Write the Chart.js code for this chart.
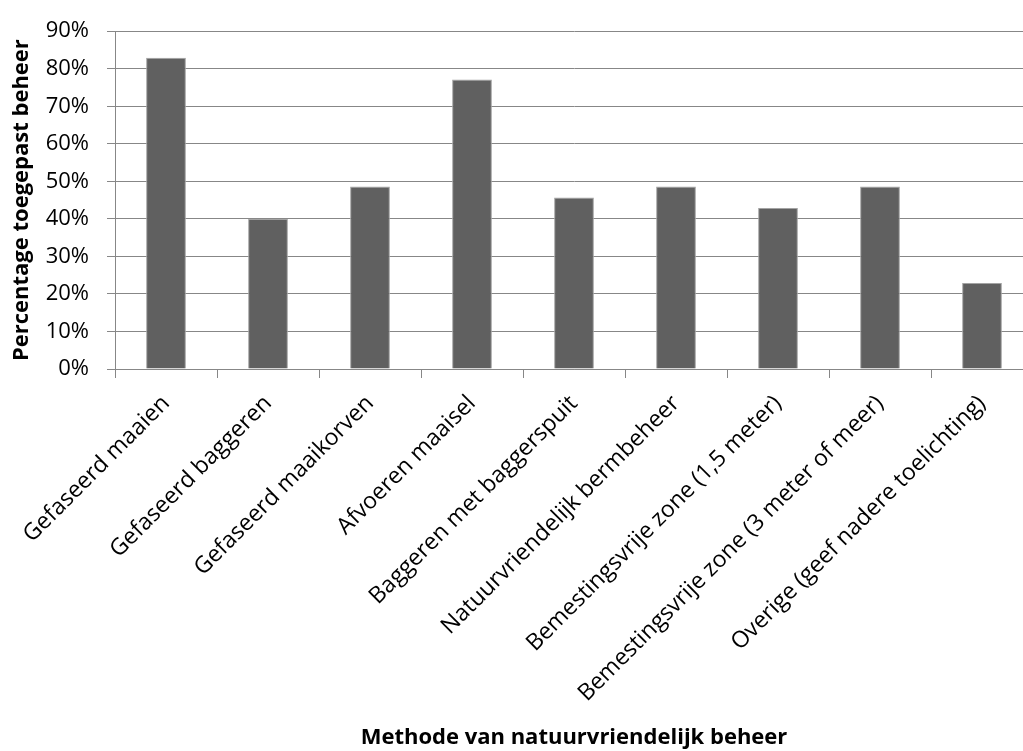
<!DOCTYPE html>
<html>
<head>
<meta charset="utf-8">
<script src="https://cdn.jsdelivr.net/npm/chart.js@4.4.1/dist/chart.umd.min.js"></script>
<style>
  html, body { margin: 0; padding: 0; background: #fff; overflow: hidden; }
  #wrap { width: 1034px; height: 751px; }
</style>
</head>
<body>
<div id="wrap"><canvas id="chart" width="1034" height="751"></canvas></div>
<script>
// Data
const categories = [
  'Gefaseerd maaien',
  'Gefaseerd baggeren',
  'Gefaseerd maaikorven',
  'Afvoeren maaisel',
  'Baggeren met baggerspuit',
  'Natuurvriendelijk bermbeheer',
  'Bemestingsvrije zone (1,5 meter)',
  'Bemestingsvrije zone (3 meter of meer)',
  'Overige (geef nadere toelichting)',
];
const percentages = [82.9, 40.0, 48.6, 77.1, 45.7, 48.6, 42.9, 48.6, 22.9];
const yTicks = [0, 10, 20, 30, 40, 50, 60, 70, 80, 90];

const AXIS_GREY = '#878787';
const FONT = "'Open Sans', sans-serif";

const ctx = document.getElementById('chart').getContext('2d');
new Chart(ctx, {
  type: 'bar',
  data: {
    labels: categories,
    datasets: [{
      data: percentages,
      backgroundColor: '#606060',
      borderColor: '#a3a3a3',
      borderWidth: 1,
      categoryPercentage: 1,
      barPercentage: 0.39,
    }],
  },
  options: {
    responsive: false,
    animation: false,
    layout: { padding: { top: 19, right: 1, bottom: 0, left: 0 } },
    plugins: { legend: { display: false }, tooltip: { enabled: false } },
    scales: {
      x: {
        grid: { drawOnChartArea: false, drawTicks: true, tickLength: 9, color: AXIS_GREY, offset: true },
        border: { color: AXIS_GREY, width: 1 },
        ticks: {
          autoSkip: false, minRotation: 45, maxRotation: 45,
          color: '#000', padding: 12,
          font: { family: FONT, size: 23 },
        },
        title: {
          display: true,
          text: 'Methode van natuurvriendelijk beheer',
          color: '#000',
          font: { family: FONT, size: 22, weight: 'bold' },
          padding: { top: 2, bottom: 0 },
        },
        afterFit: (scale) => { scale.height = 751 - 369; },
      },
      y: {
        min: 0, max: 90,
        afterBuildTicks: (scale) => { scale.ticks = yTicks.map(v => ({ value: v })); },
        grid: { color: AXIS_GREY, lineWidth: 1, tickLength: 8 },
        border: { color: AXIS_GREY, width: 1 },
        ticks: {
          color: '#000', padding: 18,
          font: { family: FONT, size: 22 },
          callback: (v) => v + '%',
        },
        title: {
          display: true,
          text: 'Percentage toegepast beheer',
          color: '#000',
          font: { family: FONT, size: 22, weight: 'bold' },
          padding: { top: 9, bottom: 0 },
        },
        afterFit: (scale) => { scale.width = 115; },
      },
    },
  },
});
</script>
</body>
</html>
